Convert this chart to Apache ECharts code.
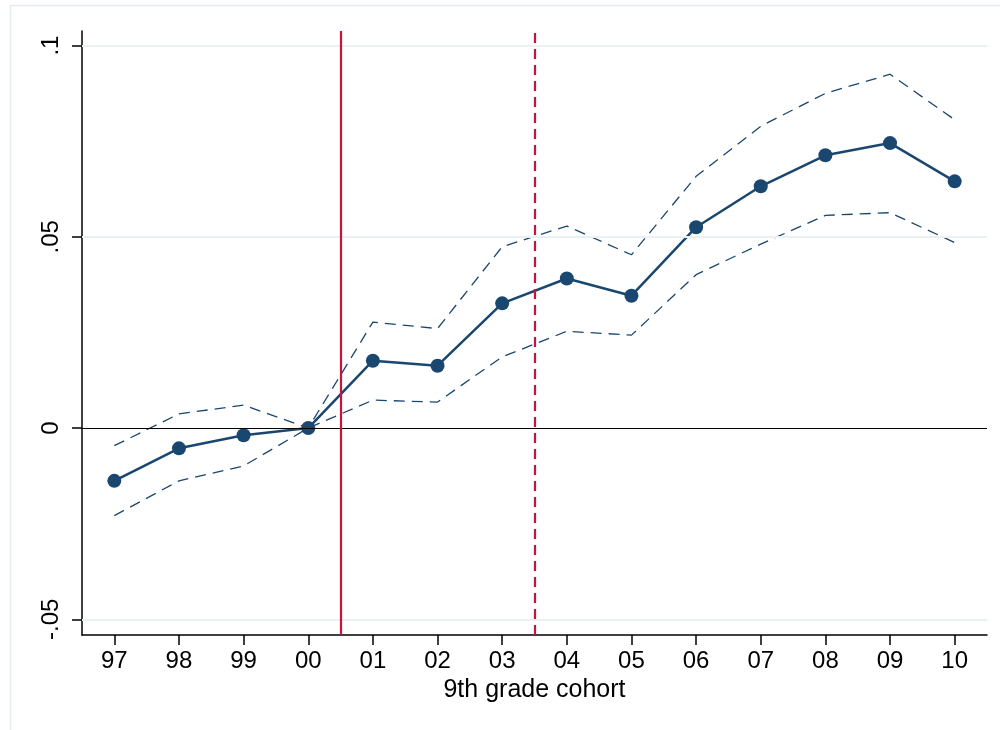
<!DOCTYPE html>
<html>
<head>
<meta charset="utf-8">
<script src="https://cdn.jsdelivr.net/npm/echarts@6/dist/echarts.min.js"></script>
<style>
  html, body { margin: 0; padding: 0; background: #fff; }
  #chart { width: 1000px; height: 730px; }
</style>
</head>
<body>
<div id="chart"></div>
<script>
// 9th grade cohorts (x axis tick labels)
const cohorts = ['97', '98', '99', '00', '01', '02', '03', '04', '05', '06', '07', '08', '09', '10'];
// Point estimates by cohort
const estimate = [-0.0138, -0.0053, -0.0019, 0.0, 0.0176, 0.0163, 0.0326, 0.0391, 0.0346, 0.0525, 0.0632, 0.0713, 0.0745, 0.0645];
// Upper and lower confidence bounds
const upperCI = [-0.0046, 0.0037, 0.0060, 0.0, 0.0277, 0.0260, 0.0474, 0.0528, 0.0453, 0.0658, 0.0789, 0.0875, 0.0925, 0.0806];
const lowerCI = [-0.0229, -0.0138, -0.0099, 0.0, 0.0073, 0.0068, 0.0186, 0.0253, 0.0243, 0.0401, 0.0481, 0.0556, 0.0563, 0.0485];
// Y axis ticks and their printed labels
const yTicks = [-0.05, 0, 0.05, 0.1];
const yTickLabels = ['-.05', '0', '.05', '.1'];
// Policy reference lines (positions between cohorts)
const policyLineSolid = 3.5;
const policyLineDashed = 6.5;

const navy = '#1a476f';
const red = '#c8133b';
const gridColor = '#e9f1f2';
const font = '"Liberation Sans", Arial, Helvetica, sans-serif';

const idx = cohorts.map((_, i) => i);
const pairs = arr => arr.map((v, i) => [i, v]);

const chart = echarts.init(document.getElementById('chart'), null, { renderer: 'canvas' });

chart.setOption({
  animation: false,
  backgroundColor: '#ffffff',
  graphic: [{
    type: 'rect',
    shape: { x: 10.5, y: 5.5, width: 1000, height: 740 },
    style: { fill: 'none', stroke: '#e4ecee', lineWidth: 1.5 },
    silent: true,
    z: -10
  }],
  grid: { left: 82, right: 13, top: 31, bottom: 95, containLabel: false },
  xAxis: {
    type: 'value',
    min: -0.5,
    max: 13.5,
    name: '9th grade cohort',
    nameLocation: 'middle',
    nameGap: 43,
    nameTextStyle: { fontFamily: font, fontSize: 25, color: '#000' },
    axisLine: { show: true, onZero: false, lineStyle: { color: '#000', width: 1.5 } },
    axisTick: { show: true, length: 10, customValues: idx, lineStyle: { color: '#000', width: 1.5 } },
    axisLabel: {
      customValues: idx,
      margin: 14,
      fontFamily: font,
      fontSize: 24,
      color: '#000',
      formatter: v => cohorts[Math.round(v)] ?? ''
    },
    splitLine: { show: false }
  },
  yAxis: {
    type: 'value',
    min: -0.0541,
    max: 0.1038,
    axisLine: { show: true, onZero: false, lineStyle: { color: '#000', width: 1.5 } },
    axisTick: { show: true, length: 10, customValues: yTicks, lineStyle: { color: '#000', width: 1.5 } },
    axisLabel: {
      customValues: yTicks,
      rotate: 90,
      margin: 19,
      fontFamily: font,
      fontSize: 24,
      color: '#000',
      formatter: v => {
        const k = yTicks.findIndex(t => Math.abs(t - v) < 1e-9);
        return k >= 0 ? yTickLabels[k] : '';
      }
    },
    splitLine: { show: false }
  },
  series: [
    {
      // horizontal grid lines, zero line and policy lines
      type: 'line',
      data: [],
      silent: true,
      markLine: {
        silent: true,
        symbol: 'none',
        label: { show: false },
        animation: false,
        data: [
          { yAxis: -0.05, lineStyle: { color: gridColor, width: 2, type: 'solid' } },
          { yAxis: 0.05, lineStyle: { color: gridColor, width: 2, type: 'solid' } },
          { yAxis: 0.1, lineStyle: { color: gridColor, width: 2, type: 'solid' } },
          { yAxis: 0, lineStyle: { color: '#000', width: 1.2, type: 'solid' } },
          { xAxis: policyLineSolid, lineStyle: { color: red, width: 2.2, type: 'solid' } },
          { xAxis: policyLineDashed, lineStyle: { color: red, width: 2.2, type: [10, 6] } }
        ]
      },
      z: 1
    },
    {
      name: 'Upper CI',
      type: 'line',
      data: pairs(upperCI),
      showSymbol: false,
      symbol: 'none',
      lineStyle: { color: navy, width: 1.3, type: [11, 7] },
      z: 3
    },
    {
      name: 'Lower CI',
      type: 'line',
      data: pairs(lowerCI),
      showSymbol: false,
      symbol: 'none',
      lineStyle: { color: navy, width: 1.3, type: [11, 7] },
      z: 3
    },
    {
      name: 'Estimate',
      type: 'line',
      data: pairs(estimate),
      symbol: 'circle',
      symbolSize: 14,
      itemStyle: { color: navy, borderWidth: 0 },
      lineStyle: { color: navy, width: 2.5 },
      z: 4
    }
  ]
});
</script>
</body>
</html>
